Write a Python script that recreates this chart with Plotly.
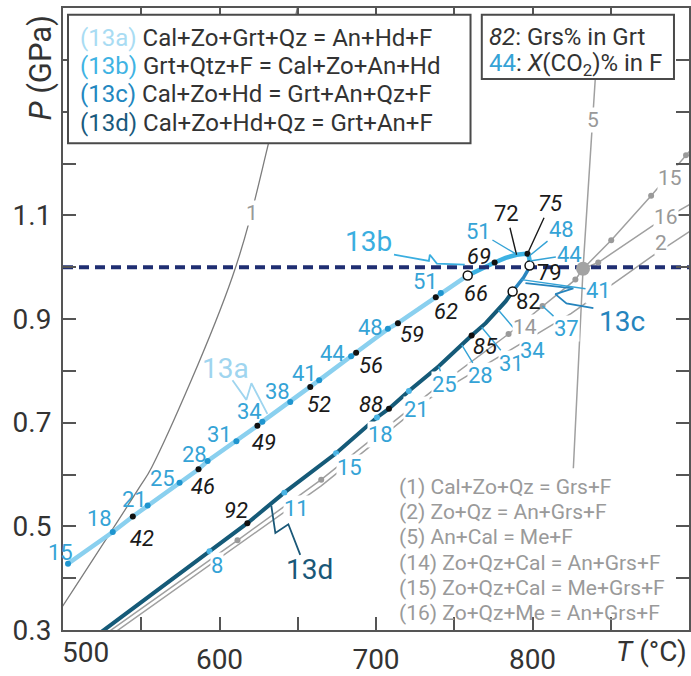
import plotly.graph_objects as go

# ---------------- data (T in °C, P in GPa) ----------------
# Reaction (13a)
a_xco2_T = [503.2, 531.8, 554.1, 574.5, 592.4, 610.8, 627.4, 645.2, 663.7, 684.1, 707.6, 741.4]
a_xco2_P = [0.428, 0.489, 0.540, 0.584, 0.626, 0.664, 0.702, 0.740, 0.782, 0.828, 0.881, 0.950]
a_xco2 = [15, 18, 21, 25, 28, 31, 34, 38, 41, 44, 48, 51]
a_grs_T = [544.6, 586.6, 624.2, 658.0, 687.3, 714.0, 738.2]
a_grs_P = [0.519, 0.610, 0.694, 0.769, 0.835, 0.892, 0.942]
a_grs = [42, 46, 49, 52, 56, 59, 62]

# invariant points of the 13 reactions (open circles)
inv_T = [758.6, 798.1, 787.3]
inv_P = [0.984, 1.003, 0.953]
inv_grs = [66, 79, 82]

# Reaction (13b)
b_T = [758.6, 765.6, 775.8, 782.8, 789.8, 795.5, 797.5, 798.1, 798.1]
b_P = [0.984, 0.995, 1.009, 1.018, 1.024, 1.026, 1.023, 1.014, 1.003]
b_grs_T = [775.8, 789.8, 796.8]
b_grs_P = [1.009, 1.024, 1.026]
b_grs = [69, 72, 75]
b_xco2_T = [789.1, 798.1, 798.3]
b_xco2_P = [1.026, 1.022, 1.012]
b_xco2 = [51, 48, 44]

# Reaction (13c)
c_T = [787.3, 790.4, 794.3, 796.8, 798.1]
c_P = [0.953, 0.965, 0.980, 0.993, 1.003]
c_xco2_T = [793.0, 806.4]
c_xco2_P = [0.976, 0.925]
c_xco2 = [41, 37]

# Reaction (13d)
d_T = [520.4, 593.6, 617.8, 641.4, 674.5, 700.6, 708.3, 721.0, 740.1, 761.1, 770.1, 782.8, 787.3]
d_P = [0.287, 0.452, 0.506, 0.565, 0.641, 0.710, 0.727, 0.761, 0.809, 0.868, 0.892, 0.934, 0.953]
d_xco2_T = [593.6, 641.4, 674.5, 700.6, 721.0, 740.1, 754.8, 767.5, 778.3]
d_xco2_P = [0.452, 0.565, 0.641, 0.710, 0.761, 0.809, 0.850, 0.884, 0.917]
d_xco2 = [8, 11, 15, 18, 21, 25, 28, 31, 34]
d_grs_T = [617.8, 708.3, 761.1]
d_grs_P = [0.506, 0.727, 0.868]
d_grs = [92, 88, 85]

# Grey reference reactions
l1_T = [497.0, 549.0, 556.7, 608.3, 630.6, 649.7]
l1_P = [0.333, 0.576, 0.614, 0.982, 1.230, 1.500]
l2_T = [530.6, 665.0, 733.8, 824.8, 875.8, 901.0]
l2_P = [0.290, 0.578, 0.746, 0.911, 1.020, 1.070]
l5_T = [826.1, 832.3, 840.1]
l5_P = [0.612, 0.997, 1.363]
l14_T = [526.1, 611.5, 665.0, 735.7, 784.7, 806.4, 827.4, 832.3]
l14_P = [0.290, 0.473, 0.590, 0.761, 0.871, 0.925, 0.976, 0.997]
l14_dot_T = [611.5, 665.0, 784.7, 806.4, 827.4]
l14_dot_P = [0.473, 0.590, 0.871, 0.925, 0.976]
l15_T = [832.3, 850.3, 875.8, 898.1, 901.0]
l15_P = [0.997, 1.052, 1.138, 1.216, 1.226]
l15_dot_T = [850.3, 875.8, 898.1]
l15_dot_P = [1.052, 1.138, 1.216]
l16_T = [832.3, 842.0, 878.3, 901.0]
l16_P = [0.997, 1.009, 1.083, 1.122]
l16_dot_T = [842.0]
l16_dot_P = [1.009]
big_T = [832.3]
big_P = [0.997]
P_ref = 1.0

x_ticks = [500, 550, 600, 650, 700, 750, 800, 850]
x_text = ["", "", "600", "", "700", "", "800", ""]
y_ticks = [0.3, 0.4, 0.5, 0.6, 0.7, 0.8, 0.9, 1.0, 1.1, 1.2, 1.3, 1.4]
y_text = ["0.3", "", "0.5", "", "0.7", "", "0.9", "", "1.1", "", "", ""]

# ---------------- styles ----------------
C13A = "#8ad0ef"
C13B = "#3db2e3"
C13C = "#2a86c0"
C13D = "#155a78"
CBLUE = "#35a3d6"
CGREY = "#a0a0a0"
FONT = "Roboto"
NUM = 22

fig = go.Figure()


def line(T, P, color, width, dash=None, shape="linear"):
    fig.add_trace(go.Scatter(x=T, y=P, mode="lines",
                             line=dict(color=color, width=width, dash=dash, shape=shape),
                             hoverinfo="skip", showlegend=False))


def dots(T, P, color, size, lc=None, lw=0):
    fig.add_trace(go.Scatter(x=T, y=P, mode="markers",
                             marker=dict(color=color, size=size,
                                         line=dict(color=lc or color, width=lw)),
                             hoverinfo="skip", showlegend=False))


# grey reactions
line(l1_T, l1_P, "#7c7c7c", 1.3, shape="spline")
line(l2_T, l2_P, CGREY, 1.5)
line(l14_T, l14_P, CGREY, 1.5)
line(l5_T, l5_P, CGREY, 1.5)
line(l15_T, l15_P, CGREY, 1.5)
line(l16_T, l16_P, CGREY, 1.5)

# 13 reactions
line(d_T, d_P, C13D, 4)
a_pts = sorted(zip(a_xco2_T + a_grs_T + [inv_T[0]], a_xco2_P + a_grs_P + [inv_P[0]]))
line([p[0] for p in a_pts], [p[1] for p in a_pts], C13A, 4.5)
line(b_T, b_P, C13B, 4.5)
line(c_T, c_P, C13C, 3.5)

# reference pressure
line([500, 900], [P_ref, P_ref], "#1f2e72", 4, dash="10px,6px")

# callout squiggles
sq = [
    ([608.3, 617.2, 620.4, 630.6], [0.782, 0.744, 0.776, 0.717], "#9fd5ef"),
    ([711.5, 733.8, 734.4, 738.9, 756.7], [1.024, 1.012, 1.024, 1.007, 1.005], "#3aaee0"),
    ([795.5, 826.1, 814.6, 821.7, 838.9], [0.969, 0.959, 0.948, 0.930, 0.921], "#2584bd"),
    ([633.1, 635.7, 644.0, 651.6], [0.540, 0.487, 0.504, 0.445], "#1a5878"),
]
for sx, sy, sc in sq:
    line(sx, sy, sc, 1.8)

# dots
dots(a_xco2_T, a_xco2_P, "#1f95cf", 6)
dots(a_grs_T, a_grs_P, "#111111", 6)
dots(d_xco2_T[:5], d_xco2_P[:5], "#4ab4e4", 6)
dots(d_grs_T, d_grs_P, "#111111", 6)
dots([b_grs_T[0], b_grs_T[2]], [b_grs_P[0], b_grs_P[2]], "#111111", 6)
dots(l14_dot_T + l15_dot_T + l16_dot_T, l14_dot_P + l15_dot_P + l16_dot_P, "#9a9a9a", 6)
dots(inv_T, inv_P, "white", 9, lc="#111111", lw=1.5)
dots(big_T, big_P, "#a3a3a3", 14)

anns = []


def label(x, y, text, color, size=NUM, dx=0, dy=0, bg=None, italic=False, arrow=False):
    if italic:
        text = "<i>" + text + "</i>"
    a = dict(x=x, y=y, xref="x", yref="y", text=text,
             font=dict(family=FONT, size=size, color=color),
             xanchor="center", yanchor="middle")
    if bg:
        a.update(bgcolor=bg, borderpad=0)
    if arrow:
        a.update(showarrow=True, ax=dx, ay=dy, axref="pixel", ayref="pixel",
                 arrowhead=0, arrowwidth=1.4, arrowcolor=color, standoff=0, startstandoff=0)
    else:
        a.update(showarrow=False, xshift=dx, yshift=-dy)
    anns.append(a)


# 13a labels
a_off = [(-8, -11), (-13, -14), (-13, -6), (-17, -4), (-13, -7), (-17, -7), (-13, -10),
         (-13, -10), (-15, -7), (-19, -3), (-17, -1), (-15, -12)]
for T, P, v, (ox, oy) in zip(a_xco2_T, a_xco2_P, a_xco2, a_off):
    label(T, P, str(v), CBLUE, dx=ox, dy=oy)
g_off = [(9, 22), (4, 17), (7, 17), (9, 18), (15, 13), (14, 11), (10, 14)]
for T, P, v, (ox, oy) in zip(a_grs_T, a_grs_P, a_grs, g_off):
    label(T, P, str(v), "#1a1a1a", dx=ox, dy=oy, italic=True)

# invariant labels
for T, P, v, (ox, oy), it in zip(inv_T, inv_P, inv_grs, [(8, 18), (20, 7), (16, 10)], [True, False, False]):
    label(T, P, str(v), "#1a1a1a", dx=ox, dy=oy, italic=it)

# 13b labels
label(b_grs_T[0], b_grs_P[0], str(b_grs[0]), "#1a1a1a", dx=-16, dy=-6, italic=True)
label(b_grs_T[1], b_grs_P[1], str(b_grs[1]), "#1a1a1a", dx=-10, dy=-41, arrow=True)
label(b_grs_T[2], b_grs_P[2], str(b_grs[2]), "#1a1a1a", dx=23, dy=-50, arrow=True, italic=True)
for T, P, v, (ox, oy) in zip(b_xco2_T, b_xco2_P, b_xco2, [(-37, -22), (32, -26), (40, -6)]):
    label(T, P, str(v), CBLUE, dx=ox, dy=oy, arrow=True)

# 13c labels
for T, P, v, (ox, oy) in zip(c_xco2_T, c_xco2_P, c_xco2, [(77, 11), (24, 22)]):
    label(T, P, str(v), CBLUE, dx=ox, dy=oy, arrow=True, bg="white")

# 13d labels
d_off = [(8, 14), (12, 16), (13, 14), (4, 17), (8, 18)]
for T, P, v, (ox, oy) in zip(d_xco2_T[:5], d_xco2_P[:5], d_xco2[:5], d_off):
    label(T, P, str(v), CBLUE, dx=ox, dy=oy, bg="white")
for T, P, v, (ox, oy) in zip(d_xco2_T[5:], d_xco2_P[5:], d_xco2[5:], [(6, 18), (19, 31), (30, 36), (34, 40)]):
    label(T, P, str(v), CBLUE, dx=ox, dy=oy, bg="white", arrow=True)
for T, P, v, (ox, oy) in zip(d_grs_T, d_grs_P, d_grs, [(-11, -13), (-18, -4), (14, 11)]):
    label(T, P, str(v), "#1a1a1a", dx=ox, dy=oy, italic=True)

# reaction tags
label(604.1, 0.805, "13a", "#9fd5ef", size=28)
label(694.9, 1.049, "13b", "#3aaee0", size=28)
label(857.5, 0.896, "13c", "#2584bd", size=28)
label(657.3, 0.416, "13d", "#1a5878", size=28)
for t, x, y in [("1", 621.0, 1.105), ("5", 838.8, 1.283), ("15", 887.8, 1.172),
                ("16", 885.2, 1.096), ("2", 882.2, 1.047), ("14", 795.5, 0.885)]:
    label(x, y, t, "#999999", size=21, bg="white")


def pann(x, y, text, size, color="#333333", xanchor="left", angle=0):
    anns.append(dict(x=x, y=y, xref="paper", yref="paper", text=text, showarrow=False,
                     xanchor=xanchor, yanchor="middle", textangle=angle,
                     font=dict(family=FONT, size=size, color=color)))


legend1 = [
    "<span style='color:#a9dcf3'>(13a)</span> Cal+Zo+Grt+Qz = An+Hd+F",
    "<span style='color:#3fb3e3'>(13b)</span> Grt+Qtz+F = Cal+Zo+An+Hd",
    "<span style='color:#2387c0'>(13c)</span> Cal+Zo+Hd = Grt+An+Qz+F",
    "<span style='color:#195a7d'>(13d)</span> Cal+Zo+Hd+Qz = Grt+An+F",
]
for i, t in enumerate(legend1):
    pann(0.0239, 0.952 - i * 0.0455, t, 24)
pann(0.678, 0.954, "<i>82</i>: Grs% in Grt", 24)
pann(0.678, 0.9095, "<span style='color:#35a3d6'>44</span>: <i>X</i>(CO<sub>2</sub>)% in F", 24)

legend2 = ["(1) Cal+Zo+Qz = Grs+F", "(2) Zo+Qz = An+Grs+F", "(5) An+Cal = Me+F",
           "(14) Zo+Qz+Cal = An+Grs+F", "(15) Zo+Qz+Cal = Me+Grs+F", "(16) Zo+Qz+Me = An+Grs+F"]
for i, t in enumerate(legend2):
    pann(0.5334, 0.2302 - i * 0.0406, t, 21, color="#9a9a9a")

pann(-0.0366, 0.903, "<i>P</i> (GPa)", 31, xanchor="center", angle=-90)
pann(0.9395, -0.0349, "<i>T</i> (°C)", 28, xanchor="center")
pann(0.0366, -0.0365, "500", 28, xanchor="center")

shapes = [
    dict(type="rect", xref="paper", yref="paper", x0=0.008, x1=0.651, y0=0.7825, y1=0.989,
         line=dict(color="#4a4a4a", width=2), fillcolor="white", layer="above"),
    dict(type="rect", xref="paper", yref="paper", x0=0.669, x1=0.976, y0=0.886, y1=0.989,
         line=dict(color="#4a4a4a", width=2), fillcolor="white", layer="above"),
]

axis_common = dict(ticks="inside", ticklen=13, tickwidth=2, tickcolor="#555555",
                   showline=True, linecolor="#555555", linewidth=2, mirror="ticks",
                   showgrid=False, zeroline=False,
                   tickfont=dict(family=FONT, size=28, color="#333333"))

fig.update_layout(
    width=691, height=676,
    margin=dict(l=63, r=0, t=8, b=38),
    paper_bgcolor="white", plot_bgcolor="white",
    xaxis=dict(range=[500, 900], tickmode="array", tickvals=x_ticks, ticktext=x_text,
               ticklabelstandoff=3, **axis_common),
    yaxis=dict(range=[0.3, 1.5], tickmode="array", tickvals=y_ticks, ticktext=y_text,
               ticklabelstandoff=4, **axis_common),
    annotations=anns, shapes=shapes, showlegend=False,
)

fig.write_html("out.html")
